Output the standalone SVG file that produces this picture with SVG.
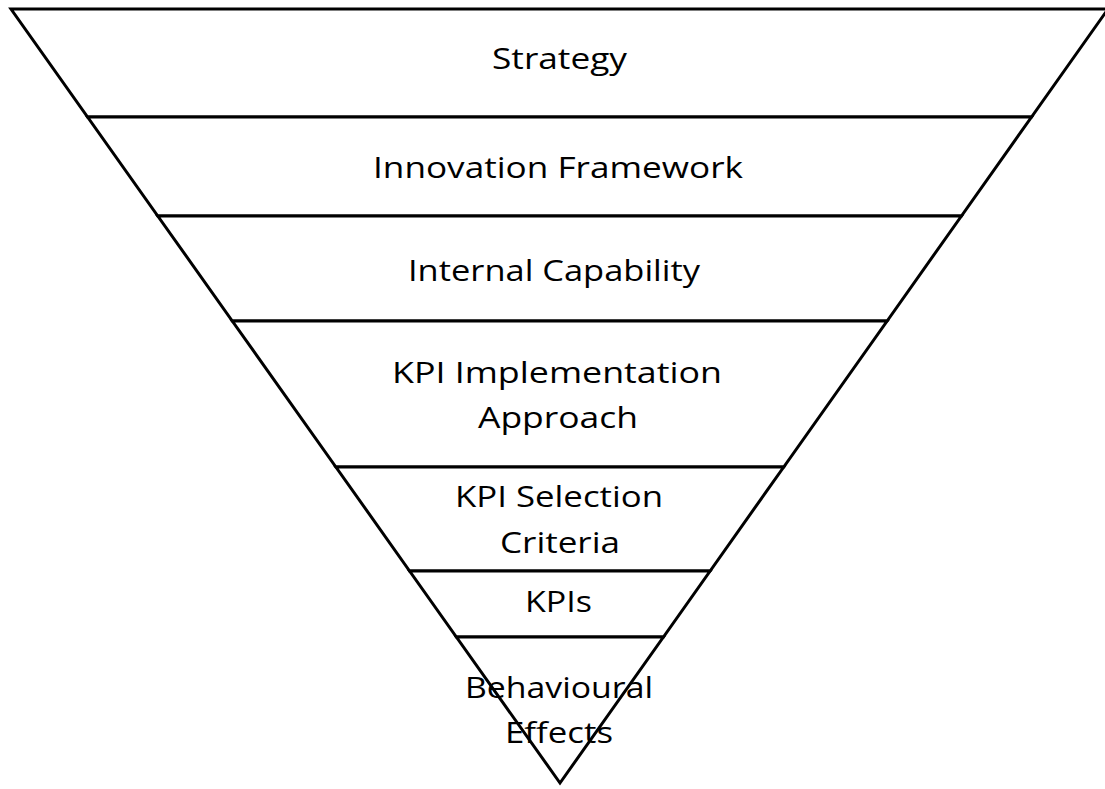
<svg xmlns="http://www.w3.org/2000/svg" width="1105" height="789" viewBox="0 0 1105 789">
<style>
.band{fill:#ffffff;stroke:#000000;stroke-width:3;stroke-linejoin:miter}
.lbl{font-family:"Open Sans","Liberation Sans",sans-serif;font-size:30px;fill:#000000;text-anchor:middle}
</style>
<rect width="1105" height="789" fill="#ffffff"/>
<g id="strategy">
<polygon class="band" points="11,9 1108,9 1031.5,117 87.6,117"/>
<text class="lbl" x="559.5" y="69" textLength="135" lengthAdjust="spacingAndGlyphs">Strategy</text>
</g>
<g id="innovation-framework">
<polygon class="band" points="87.6,117 1031.5,117 961.4,216 157.8,216"/>
<text class="lbl" x="558" y="178" textLength="370" lengthAdjust="spacingAndGlyphs">Innovation Framework</text>
</g>
<g id="internal-capability">
<polygon class="band" points="157.8,216 961.4,216 887.1,321 232.3,321"/>
<text class="lbl" x="554" y="281" textLength="292" lengthAdjust="spacingAndGlyphs">Internal Capability</text>
</g>
<g id="kpi-implementation-approach">
<polygon class="band" points="232.3,321 887.1,321 783.7,467 335.9,467"/>
<text class="lbl" x="557" y="383" textLength="330" lengthAdjust="spacingAndGlyphs">KPI Implementation</text>
<text class="lbl" x="558" y="428" textLength="160" lengthAdjust="spacingAndGlyphs">Approach</text>
</g>
<g id="kpi-selection-criteria">
<polygon class="band" points="335.9,467 783.7,467 710.1,571 409.6,571"/>
<text class="lbl" x="559" y="507" textLength="208" lengthAdjust="spacingAndGlyphs">KPI Selection</text>
<text class="lbl" x="560" y="553" textLength="120" lengthAdjust="spacingAndGlyphs">Criteria</text>
</g>
<g id="kpis">
<polygon class="band" points="409.6,571 710.1,571 663.4,637 456.4,637"/>
<text class="lbl" x="558.5" y="612" textLength="67" lengthAdjust="spacingAndGlyphs">KPIs</text>
</g>
<g id="behavioural-effects">
<polygon class="band" points="456.4,637 663.4,637 560,783"/>
<text class="lbl" x="559" y="698" textLength="188" lengthAdjust="spacingAndGlyphs">Behavioural</text>
<text class="lbl" x="559" y="743" textLength="108" lengthAdjust="spacingAndGlyphs">Effects</text>
</g>
<g id="connectors"></g>
</svg>
